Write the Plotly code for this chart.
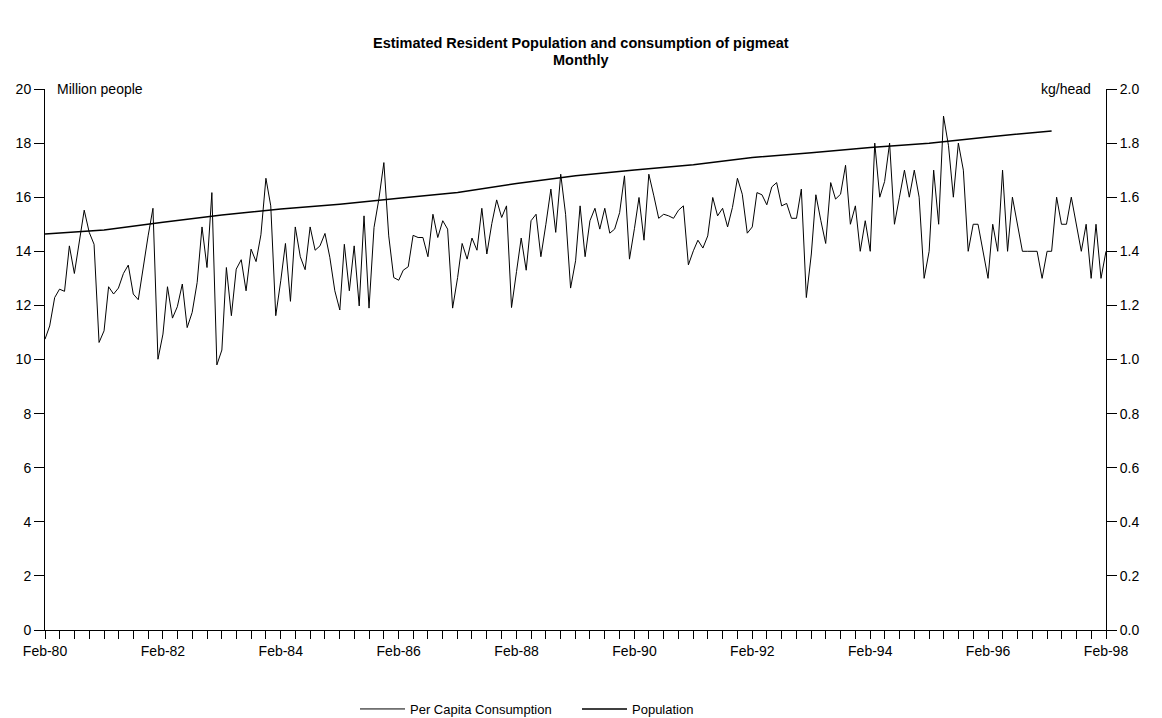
import pandas as pd
import plotly.graph_objects as go

# Monthly dates Feb-80 .. Feb-98
months = pd.date_range("1980-02-01", "1998-02-01", freq="MS")

# Per capita consumption of pigmeat (kg/head)
consumption = [
    1.075, 1.124, 1.229, 1.26, 1.252, 1.42, 1.318, 1.437, 1.552, 1.47,
    1.426, 1.063, 1.106, 1.269, 1.242, 1.264, 1.318, 1.349, 1.242, 1.221,
    1.34, 1.457, 1.559, 1.001, 1.094, 1.269, 1.153, 1.195, 1.279, 1.118,
    1.174, 1.285, 1.49, 1.34, 1.617, 0.98, 1.035, 1.34, 1.162, 1.334,
    1.369, 1.254, 1.408, 1.362, 1.461, 1.67, 1.568, 1.162, 1.291, 1.429,
    1.215, 1.49, 1.38, 1.332, 1.49, 1.404, 1.42, 1.466, 1.378, 1.254,
    1.183, 1.426, 1.254, 1.42, 1.198, 1.531, 1.19, 1.488, 1.593, 1.728,
    1.457, 1.303, 1.293, 1.33, 1.343, 1.459, 1.451, 1.451, 1.38, 1.537,
    1.451, 1.513, 1.482, 1.19, 1.303, 1.429, 1.371, 1.449, 1.404, 1.559,
    1.39, 1.503, 1.59, 1.525, 1.568, 1.192, 1.325, 1.449, 1.33, 1.513,
    1.537, 1.38, 1.5, 1.63, 1.47, 1.685, 1.537, 1.264, 1.365, 1.568,
    1.38, 1.513, 1.559, 1.482, 1.559, 1.467, 1.482, 1.543, 1.679, 1.371,
    1.485, 1.599, 1.441, 1.685, 1.605, 1.522, 1.537, 1.531, 1.522, 1.552,
    1.568, 1.35, 1.402, 1.441, 1.412, 1.457, 1.599, 1.531, 1.559, 1.49,
    1.562, 1.67, 1.611, 1.467, 1.49, 1.617, 1.609, 1.572, 1.638, 1.654,
    1.568, 1.577, 1.522, 1.522, 1.63, 1.229, 1.39, 1.609, 1.513, 1.429,
    1.654, 1.593, 1.611, 1.718, 1.5, 1.568, 1.4, 1.513, 1.4, 1.8,
    1.6, 1.658, 1.8, 1.5, 1.6, 1.7, 1.6, 1.7, 1.6, 1.3,
    1.4, 1.7, 1.5, 1.9, 1.79, 1.6, 1.8, 1.7, 1.4, 1.5,
    1.5, 1.4, 1.3, 1.5, 1.4, 1.7, 1.4, 1.6, 1.5, 1.4,
    1.4, 1.4, 1.4, 1.3, 1.4, 1.4, 1.6, 1.5, 1.5, 1.6,
    1.5, 1.4, 1.5, 1.3, 1.5, 1.3, 1.4,
]

# Estimated Resident Population (million people)
pop_dates = [
    "1980-02-01", "1981-02-01", "1982-02-01", "1983-02-01", "1984-02-01",
    "1985-02-01", "1986-02-01", "1987-02-01", "1988-02-01", "1989-02-01",
    "1990-02-01", "1991-02-01", "1992-02-01", "1993-02-01", "1994-02-01",
    "1995-02-01", "1996-02-01", "1997-02-01", "1997-03-01",
]
population = [
    14.64, 14.79, 15.07, 15.34, 15.56, 15.74, 15.96, 16.17, 16.51, 16.79,
    17.01, 17.20, 17.47, 17.64, 17.84, 17.99, 18.23, 18.43, 18.45,
]

title_lines = ["Estimated Resident Population and consumption of pigmeat", "Monthly"]

FONT = "Liberation Sans, Arial, sans-serif"
H = 718

fig = go.Figure()
fig.add_trace(go.Scatter(
    x=months, y=consumption, name="Per Capita Consumption", yaxis="y2",
    mode="lines", line=dict(color="black", width=1),
))
fig.add_trace(go.Scatter(
    x=pd.to_datetime(pop_dates), y=population, name="Population", yaxis="y",
    mode="lines", line=dict(color="black", width=1.5),
))

annotations = [
    dict(text="Million people", xref="paper", yref="paper", x=0, y=1,
         xanchor="left", yanchor="middle", xshift=10, showarrow=False,
         font=dict(size=14)),
    dict(text="kg/head", xref="paper", yref="paper", x=1, y=1,
         xanchor="right", yanchor="middle", xshift=-13, showarrow=False,
         font=dict(size=14)),
]
for line, ypx in zip(title_lines, [43, 60]):
    annotations.append(dict(
        text="<b>" + line + "</b>", xref="paper", yref="paper",
        x=0.5, y=1 + (89 - ypx) / 541, xanchor="center", yanchor="middle",
        xshift=(581 - 575.5), showarrow=False,
        font=dict(family=FONT, size=14.5, color="black"),
    ))

fig.update_layout(
    width=1162, height=H,
    margin=dict(l=45, r=56, t=89, b=88, autoexpand=False),
    paper_bgcolor="white", plot_bgcolor="white",
    font=dict(family=FONT, size=14, color="black"),
    xaxis=dict(
        type="date",
        range=["1980-02-01", "1998-02-01"],
        tick0="1980-02-01", dtick="M24", tickformat="%b-%y",
        ticks="outside", ticklen=8, tickcolor="black", tickwidth=1,
        showline=True, linecolor="black", linewidth=1,
        showgrid=False, zeroline=False,
        minor=dict(tick0="1980-02-01", dtick="M3", ticks="outside",
                   ticklen=8, tickcolor="black", tickwidth=1, showgrid=False),
        tickfont=dict(size=14),
    ),
    yaxis=dict(
        range=[0, 20], dtick=2, tick0=0,
        ticks="outside", ticklen=10, tickcolor="black",
        showline=True, linecolor="black", linewidth=1,
        showgrid=False, zeroline=False,
        tickfont=dict(size=14),
    ),
    yaxis2=dict(
        range=[0, 2], dtick=0.2, tick0=0, tickformat=".1f",
        overlaying="y", side="right",
        ticks="outside", ticklen=10, tickcolor="black",
        showline=True, linecolor="black", linewidth=1,
        showgrid=False, zeroline=False,
        tickfont=dict(size=14),
    ),
    showlegend=True,
    legend=dict(
        orientation="h", xref="container", yref="container",
        x=355 / 1162, xanchor="left", y=(H - 709) / H, yanchor="middle",
        font=dict(size=13), bgcolor="rgba(0,0,0,0)",
        entrywidth=162, entrywidthmode="pixels", itemwidth=45,
    ),
    annotations=annotations,
)

fig.write_html("out.html")
